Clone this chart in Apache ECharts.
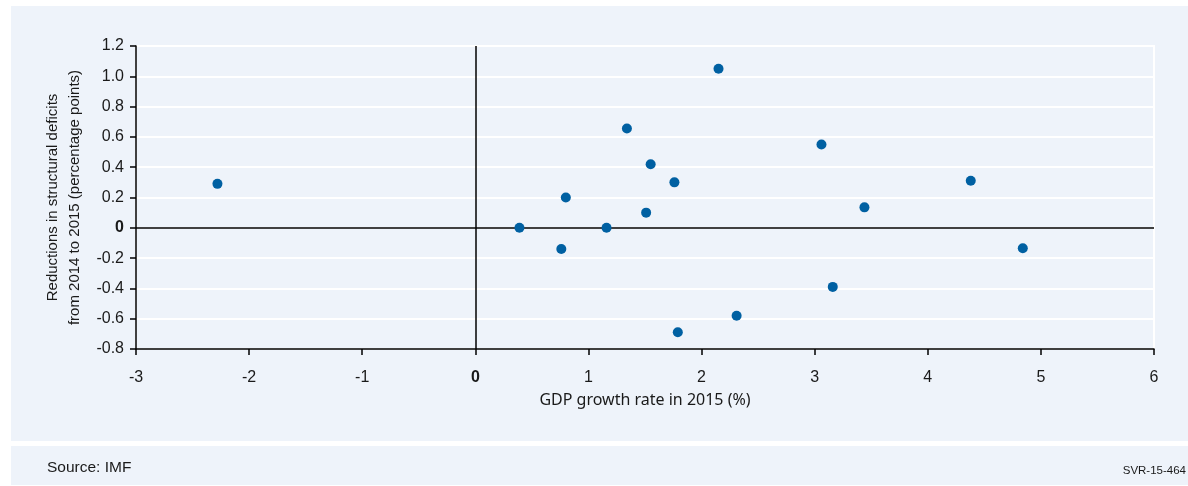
<!DOCTYPE html>
<html>
<head>
<meta charset="utf-8">
<script src="https://cdn.jsdelivr.net/npm/echarts@6/dist/echarts.min.js"></script>
<style>
html,body{margin:0;padding:0;background:#ffffff;}
#wrap{position:relative;width:1188px;height:486px;overflow:hidden;}
.panel{position:absolute;background:#eef3fa;}
#chart{position:absolute;left:0;top:0;width:1188px;height:486px;}
</style>
</head>
<body>
<div id="wrap">
  <div class="panel" style="left:11px;top:6px;width:1177px;height:435px;"></div>
  <div class="panel" style="left:11px;top:446px;width:1177px;height:39px;"></div>
  <div id="chart"></div>
</div>
<script>
// GDP growth rate in 2015 (%)
const gdpGrowth = [-2.28, 0.39, 0.76, 0.80, 1.16, 1.34, 1.55, 1.51, 1.76, 2.15, 1.79, 2.31, 3.06, 3.16, 3.44, 4.38, 4.84];
// Reductions in structural deficits 2014->2015 (percentage points)
const deficitReduction = [0.29, 0.00, -0.14, 0.20, 0.00, 0.655, 0.42, 0.10, 0.30, 1.05, -0.69, -0.58, 0.55, -0.39, 0.135, 0.31, -0.135];
const xTicks = {min: -3, max: 6, interval: 1};
const yTicks = {min: -0.8, max: 1.2, interval: 0.2};
const xTitle = 'GDP growth rate in 2015 (%)';
const yTitle = 'Reductions in structural deficits\nfrom 2014 to 2015 (percentage points)';
const sourceText = 'Source: IMF';
const codeText = 'SVR-15-464';

const points = gdpGrowth.map((x, i) => [x, deficitReduction[i]]);
const chart = echarts.init(document.getElementById('chart'), null, {renderer: 'canvas'});
const labelFont = 'Liberation Sans, Arial, sans-serif';
chart.setOption({
  backgroundColor: 'transparent',
  animation: false,
  title: [
    {text: sourceText, left: 47, top: 460, padding: 0, textStyle: {fontFamily: labelFont, fontSize: 15.5, fontWeight: 'normal', color: '#1a1a1a'}},
    {text: codeText, right: 2, top: 465, padding: 0, textStyle: {fontFamily: labelFont, fontSize: 11.5, fontWeight: 'normal', color: '#1a1a1a'}}
  ],
  grid: {left: 136, right: 34, top: 46, bottom: 137, show: true, borderColor: '#ffffff', borderWidth: 2, backgroundColor: 'transparent'},
  xAxis: {
    type: 'value', min: xTicks.min, max: xTicks.max, interval: xTicks.interval,
    name: xTitle, nameLocation: 'middle', nameGap: 43,
    nameTextStyle: {fontFamily: 'Noto Sans, sans-serif', fontSize: 16, color: '#1a1a1a'},
    axisLine: {show: true, onZero: false, lineStyle: {color: '#000', width: 1.5}},
    axisTick: {show: true, length: 6, lineStyle: {color: '#000', width: 1.5}},
    splitLine: {show: false},
    axisLabel: {
      margin: 21, fontFamily: labelFont, fontSize: 16, color: '#1a1a1a',
      formatter: v => v === 0 ? '{b|0}' : String(v),
      rich: {b: {fontWeight: 'bold', fontFamily: labelFont, fontSize: 16, color: '#1a1a1a'}}
    }
  },
  yAxis: {
    type: 'value', min: yTicks.min, max: yTicks.max, interval: yTicks.interval,
    name: yTitle, nameLocation: 'middle', nameGap: 47, nameRotate: 90,
    nameTextStyle: {fontFamily: labelFont, fontSize: 15, color: '#1a1a1a', lineHeight: 22},
    axisLine: {show: true, onZero: false, lineStyle: {color: '#000', width: 1.5}},
    axisTick: {show: true, length: 6, lineStyle: {color: '#000', width: 1.5}},
    splitLine: {show: true, lineStyle: {color: '#ffffff', width: 2}},
    axisLabel: {
      margin: 12, fontFamily: labelFont, fontSize: 16, color: '#1a1a1a',
      formatter: v => Math.abs(v) < 1e-9 ? '{b|0}' : v.toFixed(1),
      rich: {b: {fontWeight: 'bold', fontFamily: labelFont, fontSize: 16, color: '#1a1a1a'}}
    }
  },
  series: [{
    type: 'scatter',
    data: points,
    symbol: 'circle',
    symbolSize: 10,
    itemStyle: {color: '#0060a2', opacity: 1},
    z: 5,
    markLine: {
      silent: true, symbol: 'none', label: {show: false},
      lineStyle: {color: '#000', width: 1.5, type: 'solid'},
      data: [{xAxis: 0}, {yAxis: 0}],
      z: 3
    }
  }]
});
</script>
</body>
</html>
